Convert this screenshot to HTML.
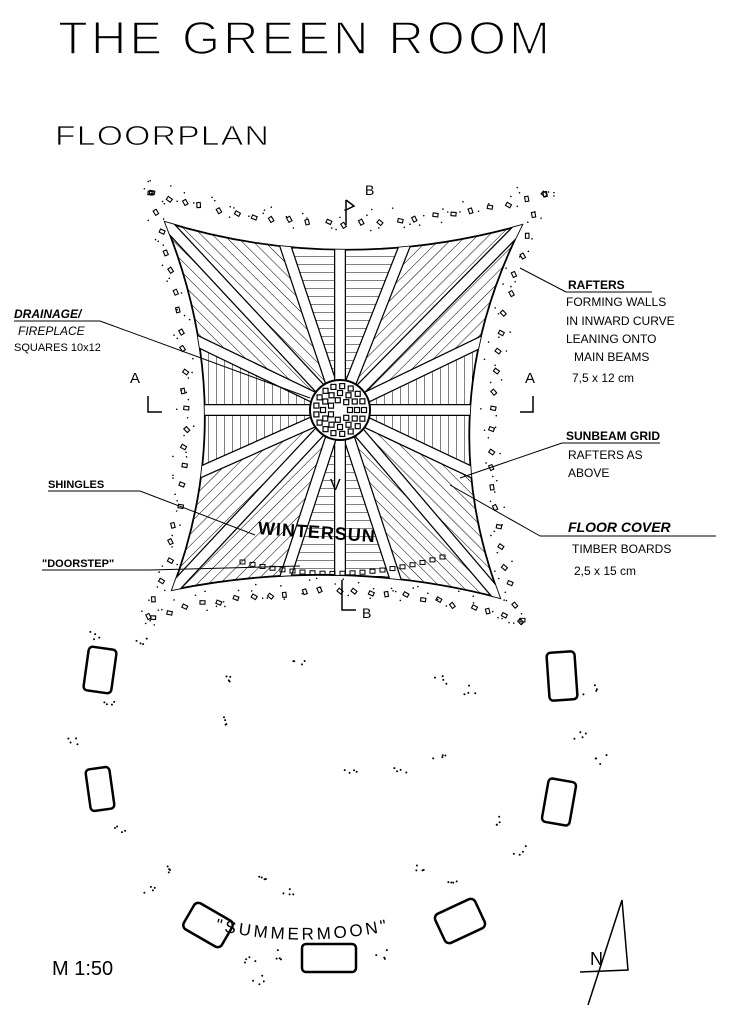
<!DOCTYPE html>
<html><head><meta charset="utf-8">
<style>
html,body{margin:0;padding:0;background:#fff;}
svg{display:block;}
text{font-family:"Liberation Sans",sans-serif;fill:#000;}
</style></head><body>
<svg id="s" width="737" height="1024" viewBox="0 0 737 1024" xmlns="http://www.w3.org/2000/svg">
<defs>
<pattern id="pa" width="8" height="8" patternUnits="userSpaceOnUse" patternTransform="rotate(45)"><line x1="0" y1="0" x2="0" y2="8" stroke="#000" stroke-width="1"/></pattern>
<pattern id="pb" width="8" height="8" patternUnits="userSpaceOnUse" patternTransform="rotate(-45)"><line x1="0" y1="0" x2="0" y2="8" stroke="#000" stroke-width="1"/></pattern>
<pattern id="ph" width="8" height="8" patternUnits="userSpaceOnUse"><line x1="0" y1="0" x2="8" y2="0" stroke="#000" stroke-width="1"/></pattern>
<pattern id="pv" width="8" height="8" patternUnits="userSpaceOnUse"><line x1="0" y1="0" x2="0" y2="8" stroke="#000" stroke-width="1"/></pattern>
<clipPath id="shape"><path d="M165,222 Q340,276 522,225 Q429,410 500,598 Q340,556 172,590 Q241,410 165,222 Z"/></clipPath>
</defs>
<rect width="737" height="1024" fill="#fff"/>
<text x="58" y="54" font-size="46" letter-spacing="3" stroke="#fff" stroke-width="1.6" textLength="495" lengthAdjust="spacingAndGlyphs">THE GREEN ROOM</text>
<text x="55" y="145" font-size="28" letter-spacing="1" stroke="#fff" stroke-width="0.8" textLength="215" lengthAdjust="spacingAndGlyphs">FLOORPLAN</text>

<g clip-path="url(#shape)" id="wedges"></g>
<path d="M165,222 Q340,276 522,225 Q429,410 500,598 Q340,556 172,590 Q241,410 165,222 Z" fill="none" stroke="#000" stroke-width="1.8"/>
<g id="rays" clip-path="url(#shape)"></g>
<circle cx="340" cy="410" r="30" fill="#fff" stroke="#000" stroke-width="2"/>
<g id="center"></g>
<g id="dots"></g>

<path d="M346,200 L346,225 M346,200 l8,6 l-8,4" stroke="#000" fill="none" stroke-width="1.5"/>
<text x="365" y="195" font-size="14">B</text>
<path d="M342,580 L342,610 L356,610" stroke="#000" fill="none" stroke-width="1.5"/>
<text x="362" y="618" font-size="14">B</text>
<text x="130" y="383" font-size="15">A</text>
<path d="M148,396 L148,412 L162,412" stroke="#000" fill="none" stroke-width="1.5"/>
<text x="525" y="383" font-size="15">A</text>
<path d="M533,396 L533,412 L520,412" stroke="#000" fill="none" stroke-width="1.5"/>

<g font-size="12">
<text x="14" y="318" font-style="italic" font-weight="bold">DRAINAGE/</text>
<line x1="14" y1="321" x2="100" y2="321" stroke="#000"/>
<text x="18" y="335" font-style="italic">FIREPLACE</text>
<text x="14" y="351" font-size="11">SQUARES 10x12</text>
<line x1="100" y1="321" x2="310" y2="398" stroke="#000"/>
<text x="48" y="488" font-size="11" font-weight="bold">SHINGLES</text>
<line x1="48" y1="491" x2="140" y2="491" stroke="#000"/>
<line x1="140" y1="491" x2="255" y2="535" stroke="#000"/>
<text x="42" y="567" font-size="11" font-weight="bold">"DOORSTEP"</text>
<line x1="42" y1="570" x2="150" y2="570" stroke="#000"/>
<line x1="150" y1="570" x2="300" y2="566" stroke="#000"/>
<text x="568" y="289" font-weight="bold">RAFTERS</text>
<line x1="566" y1="292" x2="652" y2="292" stroke="#000"/>
<line x1="566" y1="292" x2="520" y2="268" stroke="#000"/>
<text x="566" y="306" font-size="12">FORMING WALLS</text>
<text x="566" y="325" font-size="12">IN INWARD CURVE</text>
<text x="566" y="343" font-size="12">LEANING ONTO</text>
<text x="574" y="361" font-size="12">MAIN BEAMS</text>
<text x="572" y="382" font-size="12">7,5 x 12 cm</text>
<text x="566" y="440" font-weight="bold">SUNBEAM GRID</text>
<line x1="562" y1="443" x2="660" y2="443" stroke="#000"/>
<line x1="562" y1="443" x2="460" y2="478" stroke="#000"/>
<text x="568" y="459" font-size="12">RAFTERS AS</text>
<text x="568" y="477" font-size="12">ABOVE</text>
<text x="568" y="532" font-size="14" font-style="italic" font-weight="bold">FLOOR COVER</text>
<line x1="540" y1="536" x2="716" y2="536" stroke="#000"/>
<line x1="540" y1="536" x2="450" y2="485" stroke="#000"/>
<text x="572" y="553" font-size="12">TIMBER BOARDS</text>
<text x="574" y="575" font-size="12">2,5 x 15 cm</text>
</g>
<text x="258" y="537" font-size="18" font-weight="bold" transform="rotate(4 300 530)" letter-spacing="1">WINTERSUN</text>
<text x="330" y="490" font-size="16">V</text>

<g fill="none" stroke="#000" stroke-width="2.5">
<rect x="86" y="648" width="28" height="44" rx="4" transform="rotate(8 100 670)"/>
<rect x="548" y="652" width="28" height="48" rx="4" transform="rotate(-4 562 676)"/>
<rect x="88" y="768" width="24" height="42" rx="4" transform="rotate(-8 100 789)"/>
<rect x="545" y="780" width="28" height="44" rx="4" transform="rotate(10 559 802)"/>
<rect x="186" y="910" width="44" height="30" rx="5" transform="rotate(30 208 925)"/>
<rect x="438" y="905" width="44" height="32" rx="5" transform="rotate(-25 460 921)"/>
<rect x="302" y="944" width="54" height="28" rx="4"/>
</g>
<path id="arc" d="M215,930 Q330,955 445,915" fill="none"/>
<text font-size="17" letter-spacing="3"><textPath href="#arc">"SUMMERMOON"</textPath></text>
<text x="52" y="975" font-size="20">M 1:50</text>
<path d="M622,900 L588,1005 M622,900 L628,970 L580,972" fill="none" stroke="#000" stroke-width="1.5"/>
<text x="590" y="965" font-size="18">N</text>
<g id="scatter"></g>
</svg>
<script>
(function(){
var NS="http://www.w3.org/2000/svg",C=[340,410];
var rays=[[165,222],[285,245],[340,250],[405,245],[522,225],[475,345],[470,410],[478,475],[500,598],[395,578],[340,575],[285,578],[172,590],[205,470],[205,410],[205,345]];
function ext(p){return [C[0]+(p[0]-C[0])*1.6,C[1]+(p[1]-C[1])*1.6];}
var W=document.getElementById("wedges");
for(var i=0;i<16;i++){
 var a=ext(rays[i]),b=ext(rays[(i+1)%16]);
 var mx=(a[0]+b[0])/2-C[0],my=(a[1]+b[1])/2-C[1];
 var ang=Math.atan2(my,mx)*180/Math.PI;
 var pat;
 if(Math.abs(ang)<25||Math.abs(ang)>155) pat="pv";
 else if(Math.abs(Math.abs(ang)-90)<25) pat="ph";
 else pat=(ang*(Math.abs(ang)>90?-1:1)>0)?"pa":"pb";
 if(ang<-90||(ang>0&&ang<90)) pat=pat=="pa"?"pb":pat;
 var p=document.createElementNS(NS,"polygon");
 p.setAttribute("points",C.join(",")+" "+a.join(",")+" "+b.join(","));
 p.setAttribute("fill","url(#"+(((ang>-90&&ang<0)||(ang>90))?(Math.abs(Math.abs(ang)-90)<25?"ph":(Math.abs(ang)<25||Math.abs(ang)>155?"pv":"pa")):pat)+")");
 W.appendChild(p);
}
var R=document.getElementById("rays");
rays.forEach(function(p){var e=ext(p);
 [["#000",12],["#fff",9.5]].forEach(function(s){var l=document.createElementNS(NS,"line");
 l.setAttribute("x1",C[0]);l.setAttribute("y1",C[1]);l.setAttribute("x2",e[0]);l.setAttribute("y2",e[1]);
 l.setAttribute("stroke",s[0]);l.setAttribute("stroke-width",s[1]);R.appendChild(l);});});
var ce=document.getElementById("center");
for(var r=10;r<=24;r+=7){for(var k=0;k<Math.round(r*0.7);k++){var t=k/Math.round(r*0.7)*Math.PI*2;
 var q=document.createElementNS(NS,"rect");q.setAttribute("x",340+r*Math.cos(t)-2.5);q.setAttribute("y",410+r*Math.sin(t)-2.5);
 q.setAttribute("width",5);q.setAttribute("height",5);q.setAttribute("fill","none");q.setAttribute("stroke","#000");q.setAttribute("stroke-width",1.2);ce.appendChild(q);}}
var D=document.getElementById("dots");
var seed=7;function rnd(){seed=(seed*9301+49297)%233280;return seed/233280;}
function quad(p0,c,p2,t){return [(1-t)*(1-t)*p0[0]+2*(1-t)*t*c[0]+t*t*p2[0],(1-t)*(1-t)*p0[1]+2*(1-t)*t*c[1]+t*t*p2[1]];}
var segs=[[[150,190],[340,250],[545,192]],[[545,192],[450,410],[520,620]],[[520,620],[340,560],[150,615]],[[150,615],[220,410],[150,190]]];
segs.forEach(function(s){for(var i=0;i<=22;i++){var p=quad(s[0],s[1],s[2],i/22);
 var q=document.createElementNS(NS,"rect");q.setAttribute("x",p[0]-2+rnd()*4);q.setAttribute("y",p[1]-2+rnd()*4);
 q.setAttribute("width",5);q.setAttribute("height",3.5);q.setAttribute("fill","none");q.setAttribute("stroke","#000");q.setAttribute("stroke-width",1.1);
 q.setAttribute("transform","rotate("+(rnd()*90)+" "+p[0]+" "+p[1]+")");D.appendChild(q);
 for(var j=0;j<2;j++){var d=document.createElementNS(NS,"circle");d.setAttribute("cx",p[0]+(rnd()-0.5)*22);d.setAttribute("cy",p[1]+(rnd()-0.5)*22);d.setAttribute("r",0.8);D.appendChild(d);}}});
for(var i=0;i<=20;i++){var p=quad([240,560],[340,585],[440,555],i/20);var q=document.createElementNS(NS,"rect");
 q.setAttribute("x",p[0]);q.setAttribute("y",p[1]);q.setAttribute("width",5);q.setAttribute("height",4);q.setAttribute("fill","none");q.setAttribute("stroke","#000");D.appendChild(q);}
var S=document.getElementById("scatter");
var pts=[[95,635],[110,700],[75,740],[120,830],[165,870],[150,890],[260,880],[290,890],[350,775],[400,770],[420,870],[455,885],[500,820],[520,850],[580,735],[600,760],[230,680],[300,660],[440,680],[470,690],[250,960],[280,955],[380,955],[260,980],[230,720],[440,760],[140,640],[590,690]];
pts.forEach(function(p){for(var j=0;j<4;j++){var d=document.createElementNS(NS,"circle");d.setAttribute("cx",p[0]+(rnd()-0.5)*14);d.setAttribute("cy",p[1]+(rnd()-0.5)*10);d.setAttribute("r",1);S.appendChild(d);}});
})();
</script>
</body></html>
